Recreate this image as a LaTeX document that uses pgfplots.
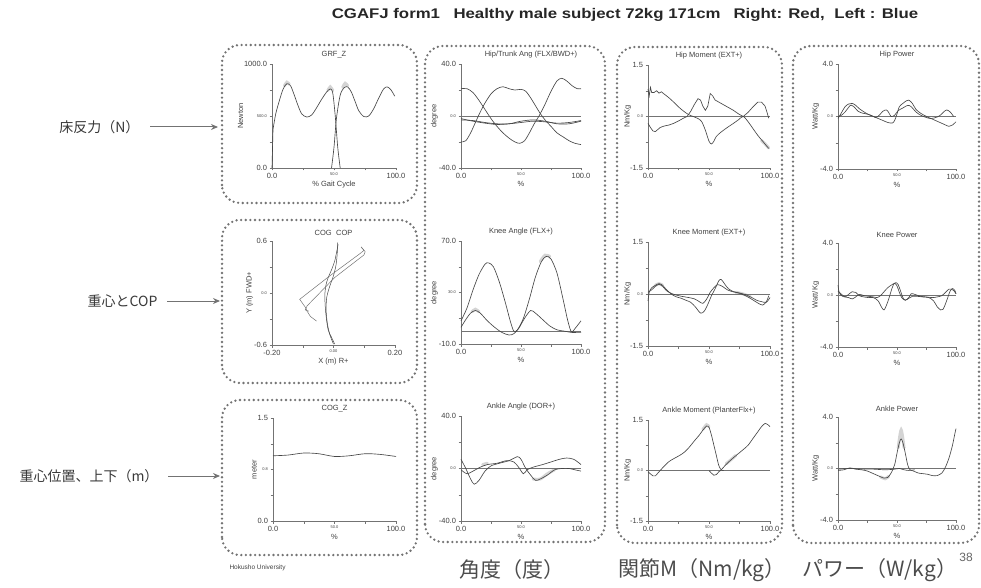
\documentclass[border=0pt]{standalone}
\usepackage{pgfplots}
\pgfplotsset{compat=1.18}
\usetikzlibrary{arrows.meta}
\usepackage{fontspec}
\setmainfont{Liberation Sans}
\newfontfamily\cjk{Noto Sans CJK JP}
\colorlet{lc}{black!72}
\colorlet{axc}{black!55}
\colorlet{bandc}{black!17}
\colorlet{txc}{black!75}
\newcommand{\tn}[1]{{\fontsize{4}{4}\selectfont #1}}
\pgfplotsset{
  gp/.style={scale only axis, axis lines*=left,
    axis line style={axc, line width=0.5pt},
    tick style={axc, line width=0.4pt}, major tick length=2.5pt, tick align=outside,
    xmin=0, xmax=100, xtick={0,25,50,75,100}, xticklabels={0.0,,\tn{50.0},,100.0},
    ticklabel style={font=\fontsize{7.5}{8}\selectfont, text=txc},
    xticklabel style={yshift=1pt}, yticklabel style={xshift=1pt},
    title style={font=\fontsize{7.5}{8}\selectfont, text=txc, yshift=-4pt},
    label style={font=\fontsize{7.5}{8}\selectfont, text=txc},
    xlabel={\%}, xlabel style={yshift=4pt}, ylabel style={yshift=-6pt},
    clip=false},
  L/.style={lc, line width=0.65pt, smooth, tension=0.5},
  B/.style={bandc, line width=3pt, smooth, line cap=round},
  Z/.style={axc, line width=0.5pt},
}
\begin{document}
\begin{tikzpicture}[x=1pt,y=1pt]
\path[use as bounding box] (0,0) rectangle (981,587);
% title
\node[font=\bfseries\fontsize{14}{15}\selectfont, text=black!85] at (625,572) {\scalebox{1.2}[1]{CGAFJ form1\hspace{0.8em}Healthy male subject 72kg 171cm\hspace{0.5em} Right: Red,\hspace{0.3em} Left : Blue}};
% dotted boxes
\begin{scope}[black!55, line width=2.6pt, line cap=round, dash pattern=on 0pt off 4.6pt, rounded corners=18pt]
\draw (222,384) rectangle (417,542);
\draw (222,204) rectangle (417,367);
\draw (222,32) rectangle (417,187);
\draw (425,45) rectangle (605,541);
\draw (617,44) rectangle (782,540);
\draw (793,44) rectangle (979,541);
\end{scope}
% left labels
\node[font=\cjk\fontsize{14}{15}\selectfont, text=black!78, anchor=east] at (143,460) {床反力（N）};
\node[font=\cjk\fontsize{14}{15}\selectfont, text=black!78, anchor=east] at (161,286) {重心とCOP};
\node[font=\cjk\fontsize{14}{15}\selectfont, text=black!78, anchor=east] at (162,111) {重心位置、上下（m）};
\draw[-{Stealth[length=7pt,width=6pt]}, black!55, line width=1pt] (150,460) -- (218,460);
\draw[-{Stealth[length=7pt,width=6pt]}, black!55, line width=1pt] (167,286) -- (220,286);
\draw[-{Stealth[length=7pt,width=6pt]}, black!55, line width=1pt] (168,111) -- (220,111);
% bottom labels
\node[font=\cjk\fontsize{21}{22}\selectfont, text=black!70] at (512,17) {角度（度）};
\node[font=\cjk\fontsize{21}{22}\selectfont, text=black!70] at (702,17) {関節M（Nm/kg）};
\node[font=\cjk\fontsize{21}{22}\selectfont, text=black!70] at (880,17) {パワー（W/kg）};
\node[font=\fontsize{12}{13}\selectfont, text=black!60] at (966,30) {38};
\node[font=\fontsize{6.5}{7}\selectfont, text=black!75, anchor=west] at (226,19) {Hokusho University};

% ===== GRF_Z
\begin{axis}[gp, at={(272pt,419pt)}, anchor=south west, width=124pt, height=104pt,
  ymin=0, ymax=1000, ytick={0,250,500,750,1000}, yticklabels={0.0,,\tn{500.0},,1000.0},
  title={GRF\_Z}, ylabel={Newton}, xlabel={\% Gait Cycle}]
\addplot[B] coordinates {(10,790)(12,825)(14,805)};
\addplot[B] coordinates {(45,745)(47,780)(49,745)};
\addplot[B] coordinates {(57,775)(59,815)(61,790)};
\addplot[lc, line width=0.65pt] coordinates {(0,0)(0.8,370)};
\addplot[L] coordinates {(0.8,370)(3,520)(6,650)(9,760)(12,810)(15,790)(18,700)(21,600)(24,520)(28,490)(32,510)(36,580)(40,660)(44,730)(47,760)(49,720)(51,500)(53,200)(55,0)};
\addplot[L] coordinates {(48,0)(50,200)(52,480)(55,700)(58,770)(61,780)(64,730)(67,640)(70,550)(74,495)(78,500)(82,570)(86,670)(90,760)(93,780)(96,750)(99,690)};
\end{axis}

% ===== COG COP
\begin{axis}[gp, at={(272pt,242pt)}, anchor=south west, width=123pt, height=104pt,
  xmin=-0.2, xmax=0.2, xtick={-0.2,-0.1,0,0.1,0.2}, xticklabels={-0.20,,\tn{0.00},,0.20},
  ymin=-0.6, ymax=0.6, ytick={-0.6,-0.3,0,0.3,0.6}, yticklabels={-0.6,,\tn{0.0},,0.6},
  title={COG\hspace{0.6em}COP}, ylabel={Y (m) FWD+}, xlabel={X (m) R+}]
\addplot[lc, line width=0.5pt, smooth] coordinates {(0.004,-0.59)(-0.008,-0.50)(-0.017,-0.43)(-0.023,-0.30)(-0.027,-0.15)(-0.028,-0.01)(-0.024,0.10)(-0.017,0.18)(-0.005,0.28)(0.004,0.37)(0.010,0.47)(0.015,0.56)};
\addplot[lc, line width=0.5pt, smooth] coordinates {(0.0,-0.59)(-0.012,-0.48)(-0.020,-0.35)(-0.024,-0.2)(-0.022,-0.05)(-0.012,0.08)(0.0,0.2)(0.008,0.32)(0.012,0.45)(0.013,0.58)};
\addplot[black!55, line width=0.5pt] coordinates {(-0.055,-0.324)(-0.075,-0.271)(-0.086,-0.21)(-0.090,-0.172)(-0.110,-0.073)(-0.012,0.198)(0.086,0.454)(0.099,0.492)(0.090,0.531)};
\addplot[black!55, line width=0.5pt] coordinates {(0.090,0.531)(0.103,0.477)(0.099,0.439)(0.004,0.179)(-0.086,-0.149)(-0.092,-0.195)(-0.080,-0.210)};
\end{axis}

% ===== COG_Z
\begin{axis}[gp, at={(273pt,66pt)}, anchor=south west, width=123pt, height=103pt,
  ymin=0, ymax=1.5, ytick={0,0.375,0.75,1.125,1.5}, yticklabels={0.0,,\tn{0.8},,1.5},
  title={COG\_Z}, ylabel={meter}]
\addplot[L] coordinates {(0,0.95)(12,0.96)(25,0.99)(37,0.98)(50,0.94)(62,0.95)(75,0.98)(87,0.97)(100,0.94)};
\end{axis}

% ===== Hip/Trunk Ang
\begin{axis}[gp, at={(461pt,419pt)}, anchor=south west, width=120pt, height=104pt,
  ymin=-40, ymax=40, ytick={-40,-20,0,20,40}, yticklabels={-40.0,,\tn{0.0},,40.0},
  title={Hip/Trunk Ang (FLX/BWD+)}, title style={xshift=10pt}, ylabel={degree}]
\addplot[Z] coordinates {(0,0)(100,0)};
\addplot[L] coordinates {(0,21)(5,21)(10,18)(15,12)(20,5)(25,-2)(30,-8)(35,-13)(40,-17)(45,-20)(49,-21)(53,-19)(57,-13)(61,-6)(65,0)(70,9)(75,19)(80,27)(84,29)(88,27)(93,23)(97,21)(100,21)};
\addplot[L] coordinates {(0,-20)(4,-19)(8,-13)(12,-5)(16,3)(20,10)(25,17)(30,21)(35,22.5)(40,21)(45,20)(50,20.5)(54,19)(58,14)(62,8)(66,2)(70,-3)(75,-8)(80,-13)(85,-16)(90,-19)(95,-21)(100,-22)};
\addplot[L] coordinates {(0,-2)(10,-4)(20,-5.5)(30,-6.5)(40,-6)(50,-5)(60,-4)(70,-4.5)(80,-5.5)(90,-5)(100,-3.5)};
\addplot[L] coordinates {(0,-3)(10,-3.5)(20,-5)(30,-6)(40,-6)(50,-4)(60,-3)(70,-4)(80,-6)(90,-6)(100,-4)};
\end{axis}

% ===== Knee Angle
\begin{axis}[gp, at={(461pt,243pt)}, anchor=south west, width=120pt, height=103pt,
  ymin=-10, ymax=70, ytick={-10,10,30,50,70}, yticklabels={-10.0,,\tn{30.0},,70.0},
  title={Knee Angle (FLX+)}, ylabel={degree}]
\addplot[B] coordinates {(66,54)(70,59)(74,58)};
\addplot[B] coordinates {(9,15)(12,17)(15,15)};
\addplot[Z] coordinates {(0,0)(100,0)};
\addplot[L] coordinates {(0,8)(5,18)(10,32)(15,44)(20,52)(23,53)(27,50)(32,38)(37,22)(41,8)(44,0)(47,1)(52,10)(57,25)(62,42)(67,54)(71,58)(75,56)(80,45)(85,25)(89,8)(92,-0.5)(95,2)(100,8)};
\addplot[L] coordinates {(0,3)(4,9)(8,14)(12,16)(16,14)(22,8)(28,3)(34,-1)(40,-3)(44,-2)(48,2)(53,10)(58,16)(62,14)(68,9)(74,4)(80,1)(86,0)(92,-1)(96,-1)(100,-1)};
\end{axis}

% ===== Ankle Angle
\begin{axis}[gp, at={(461pt,66pt)}, anchor=south west, width=120pt, height=105pt,
  ymin=-40, ymax=40, ytick={-40,-20,0,20,40}, yticklabels={-40.0,,\tn{0.0},,40.0},
  title={Ankle Angle (DOR+)}, ylabel={degree}]
\addplot[B] coordinates {(60,-8)(66,-8)(72,-4)(78,-1)};
\addplot[B] coordinates {(18,3)(22,4)};
\addplot[Z] coordinates {(0,0)(100,0)};
\addplot[L] coordinates {(0,7)(4,0)(8,-8)(11,-12)(15,-9)(20,-2)(25,2)(32,4)(40,6)(47,9)(50,7)(54,0)(58,-5)(62,-9)(66,-8)(72,-5)(78,-1)(84,0)(90,0)(95,-1)(100,-2)};
\addplot[L] coordinates {(0,-1)(5,-4)(10,-2)(16,1)(22,3)(30,4)(38,6)(44,5)(48,1)(52,-4)(55,-1)(60,1)(68,3)(75,5)(82,7)(88,8)(94,7)(100,3)};
\end{axis}

% ===== Hip Moment
\begin{axis}[gp, at={(648pt,419pt)}, anchor=south west, width=122pt, height=103pt,
  ymin=-1.5, ymax=1.5, ytick={-1.5,-0.75,0,0.75,1.5}, yticklabels={-1.5,,\tn{0.0},,1.5},
  title={Hip Moment (EXT+)}, ylabel={Nm/Kg}, ylabel style={yshift=-2pt}]
\addplot[B] coordinates {(93,-0.7)(96,-0.8)(99,-0.92)};
\addplot[Z] coordinates {(0,0)(100,0)};
\addplot[lc, line width=0.65pt] coordinates {(0,0.8)(1,0.6)(2,0.85)(3,0.7)(5,0.7)(7,0.75)(9,0.68)(11,0.72)(13,0.66)};
\addplot[L] coordinates {(13,0.66)(17,0.55)(21,0.42)(25,0.28)(29,0.16)(33,0.06)(37,0.0)(41,-0.06)(44,-0.15)(47,-0.4)(50,-0.72)(52,-0.8)(54,-0.72)(56,-0.58)(60,-0.45)(65,-0.32)(70,-0.2)(74,-0.1)(78,0)(82,-0.15)(86,-0.35)(90,-0.55)(94,-0.72)(97,-0.85)(99,-0.93)};
\addplot[lc, line width=0.65pt] coordinates {(0,-0.2)(2,-0.32)(4,-0.42)(6,-0.44)(8,-0.38)(10,-0.32)(13,-0.28)(17,-0.25)(21,-0.2)(25,-0.13)(29,-0.05)(32,0)(35,0.15)(38,0.35)(41,0.52)(43,0.48)(45,0.3)(47,0.18)(49,0.3)(51,0.67)(53,0.6)(55,0.48)(60,0.38)(65,0.28)(70,0.18)(74,0.08)(78,0)(82,0.12)(86,0.28)(90,0.42)(93,0.42)(96,0.3)(99,-0.05)};
\end{axis}

% ===== Knee Moment
\begin{axis}[gp, at={(648pt,241pt)}, anchor=south west, width=122pt, height=104pt,
  ymin=-1.5, ymax=1.5, ytick={-1.5,-0.75,0,0.75,1.5}, yticklabels={-1.5,,\tn{0.0},,1.5},
  title={Knee Moment (EXT+)}, ylabel={Nm/Kg}, ylabel style={yshift=-2pt}]
\addplot[B] coordinates {(6,0.25)(9,0.3)(12,0.25)};
\addplot[B] coordinates {(72,0.05)(78,0)(84,-0.08)};
\addplot[Z] coordinates {(0,0)(100,0)};
\addplot[L] coordinates {(0,-0.2)(1,0.05)(3,0.18)(6,0.25)(9,0.3)(12,0.25)(15,0.13)(19,0.0)(23,-0.08)(27,-0.12)(31,-0.18)(35,-0.24)(39,-0.38)(43,-0.55)(46,-0.5)(49,-0.3)(52,-0.05)(55,0.15)(58,0.38)(60,0.42)(63,0.28)(66,0.15)(70,0.07)(75,0.02)(80,-0.05)(85,-0.15)(90,-0.26)(94,-0.32)(97,-0.22)(99,-0.05)};
\addplot[L] coordinates {(0,0.05)(3,0.12)(6,0.22)(9,0.28)(12,0.22)(15,0.1)(19,0.02)(23,-0.03)(28,-0.07)(33,-0.1)(38,-0.14)(42,-0.22)(45,-0.27)(48,-0.15)(51,0.05)(54,0.18)(57,0.27)(61,0.22)(65,0.12)(70,0.06)(75,0.03)(80,-0.02)(85,-0.1)(89,-0.18)(93,-0.22)(97,-0.24)(100,-0.1)};
\end{axis}

% ===== Ankle Moment
\begin{axis}[gp, at={(648pt,66pt)}, anchor=south west, width=122pt, height=101pt,
  ymin=-1.5, ymax=1.5, ytick={-1.5,-0.75,0,0.75,1.5}, yticklabels={-1.5,,\tn{0.0},,1.5},
  title={Ankle Moment (PlanterFlx+)}, ylabel={Nm/Kg}, ylabel style={yshift=-2pt}]
\addplot[B] coordinates {(45,1.22)(48,1.36)(50,1.3)};
\addplot[B] coordinates {(64,0.2)(68,0.32)(72,0.45)};
\addplot[Z] coordinates {(0,0)(100,0)};
\addplot[L] coordinates {(0,-0.04)(2,-0.1)(4,-0.16)(6,-0.16)(8,-0.08)(10,0)(13,0.12)(17,0.26)(21,0.35)(26,0.45)(30,0.55)(34,0.7)(38,0.88)(42,1.05)(45,1.2)(48,1.32)(50,1.28)(52,1.05)(54,0.75)(56,0.45)(58,0.15)(60,0.02)(62,0)};
\addplot[L] coordinates {(50,0)(52,-0.08)(54,-0.14)(56,-0.12)(58,-0.04)(60,0.02)(63,0.14)(66,0.25)(70,0.38)(74,0.5)(78,0.62)(82,0.75)(86,0.95)(90,1.15)(93,1.3)(96,1.4)(98,1.37)(100,1.3)};
\end{axis}

% ===== Hip Power
\begin{axis}[gp, at={(838pt,418pt)}, anchor=south west, width=118pt, height=105pt,
  ymin=-4, ymax=4, ytick={-4,-2,0,2,4}, yticklabels={-4.0,,\tn{0.0},,4.0},
  title={Hip Power}, ylabel={Watt/Kg}]
\addplot[Z] coordinates {(0,0)(100,0)};
\addplot[L] coordinates {(0,-0.15)(3,0.3)(6,0.75)(9,0.95)(12,1.0)(15,0.85)(18,0.6)(22,0.35)(26,0.15)(30,0)(34,-0.15)(38,-0.3)(42,-0.45)(46,-0.5)(48,-0.3)(50,0.2)(52,0.75)(55,1.0)(58,1.2)(60,1.25)(63,1.0)(66,0.55)(70,0.25)(75,0)(80,-0.2)(85,-0.4)(90,-0.6)(94,-0.75)(97,-0.65)(100,-0.4)};
\addplot[L] coordinates {(0,0)(3,0.1)(6,0.35)(9,0.7)(11,0.87)(14,0.7)(17,0.4)(21,0.25)(25,0.18)(29,0.05)(32,-0.08)(35,0.1)(38,0.4)(41,0.5)(43,0.3)(45,0)(48,0.1)(51,0.45)(55,0.65)(59,0.85)(62,0.75)(66,0.35)(70,0.1)(74,-0.05)(78,-0.15)(82,-0.1)(86,0.05)(89,0.3)(92,0.5)(95,0.35)(98,0)};
\end{axis}

% ===== Knee Power
\begin{axis}[gp, at={(838pt,240pt)}, anchor=south west, width=118pt, height=104pt,
  ymin=-4, ymax=4, ytick={-4,-2,0,2,4}, yticklabels={-4.0,,\tn{0.0},,4.0},
  title={Knee Power}, ylabel={Watt/Kg}]
\addplot[Z] coordinates {(0,0)(100,0)};
\addplot[L] coordinates {(0,0.75)(1,0.2)(3,-0.05)(6,-0.15)(9,0.05)(12,0.25)(15,0.2)(18,-0.05)(22,-0.15)(26,-0.2)(30,-0.2)(34,-0.45)(37,-0.95)(39,-1.15)(41,-0.8)(43,-0.3)(45,0.3)(47,0.8)(49,0.95)(51,0.8)(53,0.3)(55,-0.2)(57,-0.4)(60,-0.25)(63,-0.1)(67,-0.1)(72,-0.15)(77,-0.2)(81,-0.45)(84,-0.9)(87,-1.15)(89,-1.1)(91,-0.7)(93,-0.2)(95,0.3)(97,0.5)(99,0.35)(100,0.1)};
\addplot[L] coordinates {(0,0.3)(3,0.05)(6,-0.15)(9,-0.2)(12,-0.3)(15,-0.15)(18,0.05)(22,-0.05)(26,-0.1)(30,-0.15)(33,-0.2)(36,-0.05)(39,0.25)(42,0.55)(45,0.75)(48,0.9)(50,0.7)(52,0.2)(54,-0.2)(57,-0.4)(60,-0.2)(62,0.1)(65,0.05)(70,-0.1)(75,-0.15)(80,-0.2)(84,-0.15)(88,-0.05)(91,0.2)(94,0.45)(96,0.45)(98,0.35)(100,0.1)};
\end{axis}

% ===== Ankle Power
\begin{axis}[gp, at={(838pt,67pt)}, anchor=south west, width=118pt, height=103pt,
  ymin=-4, ymax=4, ytick={-4,-2,0,2,4}, yticklabels={-4.0,,\tn{0.0},,4.0},
  title={Ankle Power}, ylabel={Watt/Kg}]
\addplot[B] coordinates {(51,1.6)(53.5,3.0)(56,1.6)};
\addplot[B] coordinates {(36,-0.65)(40,-0.8)(43,-0.6)};
\addplot[Z] coordinates {(0,0)(100,0)};
\addplot[L] coordinates {(0,-0.15)(5,-0.1)(10,0.05)(15,-0.05)(20,-0.1)(25,-0.2)(30,-0.4)(35,-0.6)(39,-0.75)(42,-0.7)(45,-0.35)(48,0.3)(50,1.2)(52,2.0)(53.5,2.3)(55,2.0)(57,1.2)(59,0.3)(61,-0.1)(64,-0.2)(68,-0.35)(72,-0.4)(76,-0.45)(80,-0.55)(84,-0.55)(88,-0.35)(91,0.1)(94,0.8)(97,1.8)(99,2.7)(100,3.1)};
\addplot[L] coordinates {(0,-0.05)(10,0.0)(20,-0.05)(30,-0.05)(40,-0.1)(48,-0.05)(52,0.0)(56,-0.1)(60,-0.15)(65,-0.1)};
\end{axis}
\end{tikzpicture}
\end{document}
